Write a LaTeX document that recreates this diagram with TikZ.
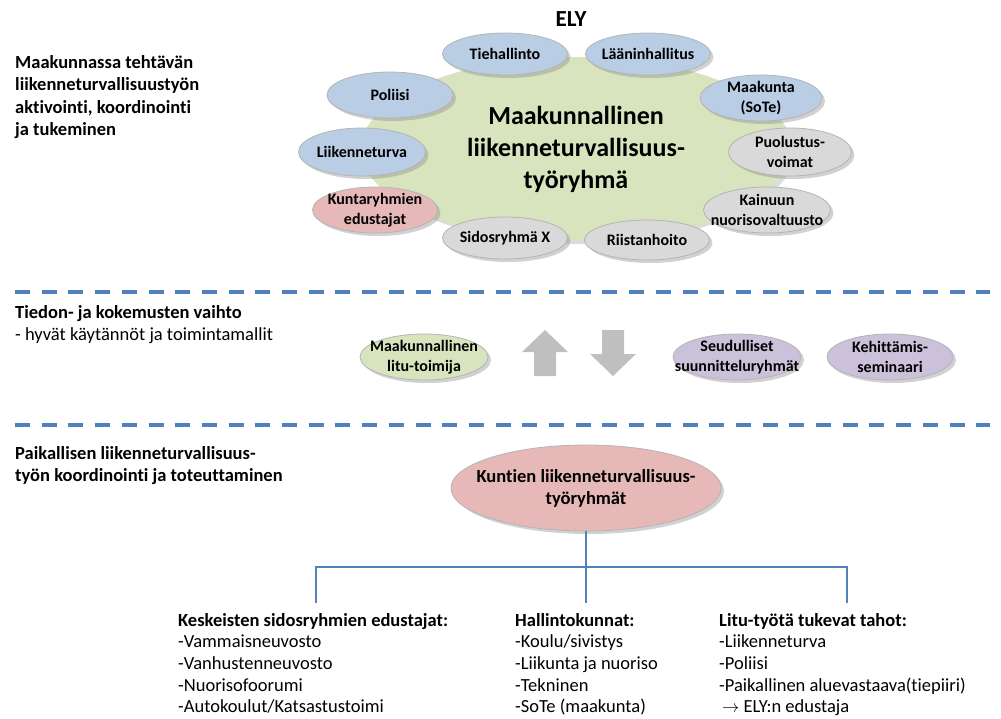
\documentclass[tikz,border=0pt]{standalone}
\usepackage{fontspec}
\setmainfont{Carlito}[Ligatures=NoCommon]
\usepackage{tikz}
\usetikzlibrary{shapes.geometric,shadows,positioning}

\definecolor{bluefill}{HTML}{B9CDE5}
\definecolor{greyfill}{HTML}{D9D9D9}
\definecolor{pinkfill}{HTML}{E6B9B8}
\definecolor{greenfill}{HTML}{D7E4BD}
\definecolor{lilacfill}{HTML}{CCC1DA}
\definecolor{rimgray}{HTML}{B4B4B4}
\definecolor{arrowgray}{HTML}{BFBFBF}
\definecolor{lineblue}{HTML}{4F81BD}

\tikzset{
  bubble/.style={ellipse, draw=rimgray, line width=0.8pt,
    inner xsep=-20pt, inner ysep=-4pt, align=center,
    minimum width=125, minimum height=45,
    font=\fontsize{16}{20}\selectfont\bfseries,
    drop shadow={shadow xshift=3pt, shadow yshift=-3pt, fill=black!45, opacity=0.4}},
  heading/.style={inner sep=0pt, align=left, font=\fontsize{18.5}{22.5}\selectfont\bfseries},
  listtext/.style={inner sep=0pt, align=left, font=\fontsize{18.5}{21.7}\selectfont},
  sepline/.style={lineblue, line width=3.5pt, dash pattern=on 15pt off 11.7pt},
  treeline/.style={lineblue, line width=1.3pt}
}

\begin{document}
\begin{tikzpicture}[x=1pt,y=-1pt]
  \useasboundingbox (0,0) rectangle (1001,719);

  % separators
  \draw[sepline] (15,292) -- (990,292);
  \draw[sepline] (15,425) -- (990,425);

  % left column texts
  \node[heading, anchor=north west] (aktivointi) at (15,55)
    {Maakunnassa tehtävän\\liikenneturvallisuustyön\\aktivointi, koordinointi\\ja tukeminen};
  \node[heading, anchor=north west] (vaihto) at (15,305)
    {Tiedon- ja kokemusten vaihto\\{\mdseries - hyvät käytännöt ja toimintamallit}};
  \node[heading, anchor=north west] (paikallinen) at (15,446)
    {Paikallisen liikenneturvallisuus-\\työn koordinointi ja toteuttaminen};

  % maakunnallinen tyoryhma
  \node[font=\fontsize{23}{26}\selectfont\bfseries] (ely) at (571,19) {ELY};
  \node[ellipse, fill=greenfill, inner sep=-30pt, minimum width=430, minimum height=184,
        align=center, font=\fontsize{26}{32}\selectfont\bfseries,
        drop shadow={shadow xshift=3pt, shadow yshift=-3pt, fill=black!45, opacity=0.3}]
        (tyoryhma) at (576,149) {Maakunnallinen\\liikenneturvallisuus-\\työryhmä};

  \node[bubble, fill=bluefill, minimum height=42] (tiehallinto) at (505,54) {Tiehallinto};
  \node[bubble, fill=bluefill, minimum height=42] (laaninhallitus) at (648,54) {Lääninhallitus};
  \node[bubble, fill=bluefill, minimum width=126, minimum height=46] (poliisi) at (390,95) {Poliisi};
  \node[bubble, fill=bluefill, minimum width=127, minimum height=48] (liikenneturva) at (362,152) {Liikenneturva};
  \node[bubble, fill=pinkfill, minimum height=46] (kuntaryhmat) at (375,210) {Kuntaryhmien\\edustajat};
  \node[bubble, fill=greyfill, minimum height=42] (sidosryhma) at (505,238) {Sidosryhmä X};
  \node[bubble, fill=greyfill, minimum height=40] (riistanhoito) at (647,240) {Riistanhoito};
  \node[bubble, fill=bluefill, minimum width=122, minimum height=46] (maakunta) at (761,98) {Maakunta\\(SoTe)};
  \node[bubble, fill=greyfill, minimum width=123, minimum height=48] (puolustus) at (790,152) {Puolustus-\\voimat};
  \node[bubble, fill=greyfill, minimum width=127, minimum height=46] (kainuu) at (767,210) {Kainuun\\nuorisovaltuusto};

  % vaihto
  \node[bubble, fill=greenfill, minimum width=128, minimum height=46] (litu) at (424,357) {Maakunnallinen\\litu-toimija};
  \fill[arrowgray] (545,330) -- (568,352) -- (556,352) -- (556,376)
    -- (534,376) -- (534,352) -- (522,352) -- cycle;
  \fill[arrowgray] (613,376) -- (636,354) -- (624,354) -- (624,330)
    -- (602,330) -- (602,354) -- (590,354) -- cycle;
  \node[bubble, fill=lilacfill, minimum width=128, minimum height=46] (seudulliset) at (737,357) {Seudulliset\\suunnitteluryhmät};
  \node[bubble, fill=lilacfill, minimum width=126, minimum height=46] (kehittamis) at (890,357) {Kehittämis-\\seminaari};

  % paikallinen taso
  \node[bubble, fill=pinkfill, minimum width=270, minimum height=86,
        font=\fontsize{18.5}{22}\selectfont\bfseries] (kuntien) at (586,488)
        {Kuntien liikenneturvallisuus-\\työryhmät};

  \coordinate (hubR) at (847,567);
  \coordinate (footL) at (316,603);
  \coordinate (footM) at (586,603);
  \coordinate (footR) at (847,603);
  \draw[treeline] (kuntien.south) -- (footM);
  \draw[treeline] (footL) |- (hubR) -- (footR);

  \node[listtext, anchor=north west] (edustajat) at (178,613)
    {\textbf{Keskeisten sidosryhmien edustajat:}\\-Vammaisneuvosto\\-Vanhustenneuvosto\\-Nuorisofoorumi\\-Autokoulut/Katsastustoimi};
  \node[listtext, anchor=north west] (hallintokunnat) at (515,613)
    {\textbf{Hallintokunnat:}\\-Koulu/sivistys\\-Liikunta ja nuoriso\\-Tekninen\\-SoTe (maakunta)};
  \node[listtext, anchor=north west] (tukevat) at (719,613)
    {\textbf{Litu-työtä tukevat tahot:}\\-Liikenneturva\\-Poliisi\\-Paikallinen aluevastaava(tiepiiri)\\\hspace{3pt}$\rightarrow$ ELY:n edustaja};
\end{tikzpicture}
\end{document}
